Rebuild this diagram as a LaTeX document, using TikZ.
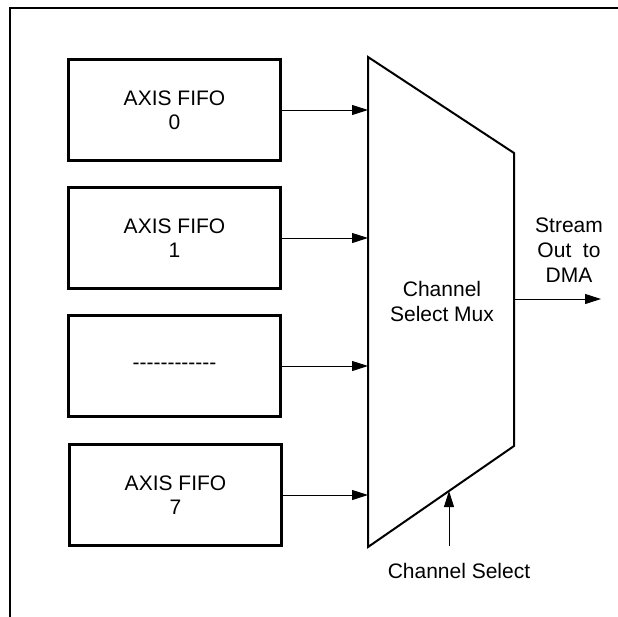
\documentclass[tikz,border=0pt]{standalone}
\usepackage{fontspec}
\setmainfont{Liberation Sans}
\usepackage{tikz}
\usetikzlibrary{arrows.meta,positioning}

\tikzset{
  fifo/.style={draw, line width=2.2pt, minimum width=212pt, minimum height=101pt,
    align=center, inner sep=0pt, font=\fontsize{21}{24}\selectfont},
  lbl/.style={align=center, inner sep=0pt, font=\fontsize{21}{25}\selectfont},
  sig/.style={line width=1pt, -{Triangle[length=16pt,width=10pt]}}
}

\begin{document}
\begin{tikzpicture}[x=1pt,y=-1pt]
      \path[use as bounding box, clip] (0,0) rectangle (618,616);
      \draw[line width=1.5pt] (10,8) rectangle (640,640);
      % fifos
      \node[fifo] (f0) at (174.5,110) {AXIS FIFO\\0};
      \node[fifo] (f1) at (174.5,238) {AXIS FIFO\\1};
      \node[fifo] (f2) at (174.5,366) {{-}{-}{-}{-}{-}{-}{-}{-}{-}{-}{-}{-}};
      \node[fifo] (f7) at (175.5,495) {AXIS FIFO\\7};
      % mux
      \coordinate (mtl) at (368,57);
      \coordinate (mtr) at (514,153);
      \coordinate (mbr) at (514,446);
      \coordinate (mbl) at (368,547);
      \draw[line width=2pt, line join=miter] (mtl) -- (mtr) -- (mbr) -- (mbl) -- cycle;
      \node[lbl] (mux) at (442,301) {Channel\\Select Mux};
      \foreach \i in {0,1,2,7}
        \draw[sig] (f\i.east) -- (f\i.east -| mtl);
      % output
      \coordinate (mout) at (514,299);
      \coordinate (out) at (601,299);
      \draw[sig] (mout) -- (out);
      \node[lbl] (dma) at (569,250) {Stream\\Out~ to\\DMA};
      % select
      \node[lbl] (sel) at (459,571) {Channel Select};
      \coordinate (cs) at (449,546);
      \coordinate (csin) at (449,491);
      \draw[sig] (cs) -- (csin);
    \end{tikzpicture}
\end{document}
